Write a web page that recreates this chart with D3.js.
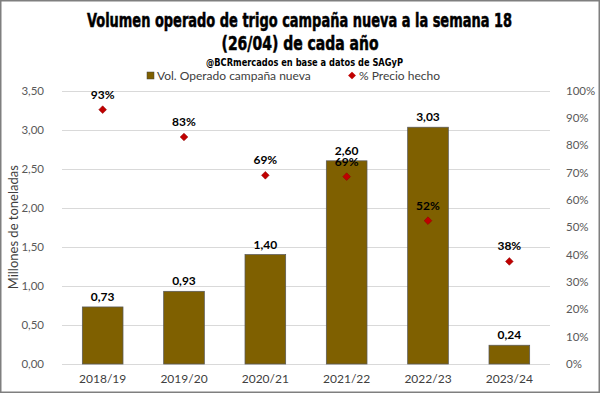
<!DOCTYPE html>
<html lang="es">
	<head>
		<meta charset="utf-8">
		<title>Volumen operado de trigo</title>
		<script type="text/javascript" src="https://d3js.org/d3.v7.min.js"></script>
		<style type="text/css">
			body { margin: 0; background: #fff; }
			text { font-family: Lato, "Open Sans", sans-serif; fill: #404040; }
			.title { font-family: "DejaVu Sans Condensed", "Liberation Sans", sans-serif; font-weight: bold; fill: #000; }
		</style>
	</head>
	<body>
		<script type="text/javascript">

			// data
			var campaigns = ["2018/19", "2019/20", "2020/21", "2021/22", "2022/23", "2023/24"];
			var volume = [0.73, 0.93, 1.40, 2.60, 3.03, 0.24];          // millones de toneladas
			var priced = [0.93, 0.83, 0.69, 0.685, 0.524, 0.375];        // % precio hecho
			var priceLabels = ["93%", "83%", "69%", "69%", "52%", "38%"];
			var leftTicks = [0, 0.5, 1, 1.5, 2, 2.5, 3, 3.5];
			var rightTicks = [0, 0.1, 0.2, 0.3, 0.4, 0.5, 0.6, 0.7, 0.8, 0.9, 1];

			var w = 600;
			var h = 393;
			var margin = {top: 90.5, right: 50, bottom: 29, left: 62};

			var svg = d3.select("body")
						.append("svg")
						.attr("width", w)
						.attr("height", h);

			// outer frame
			svg.append("rect")
				.attr("x", 0.75).attr("y", 0.75)
				.attr("width", w - 1.5).attr("height", h - 1.5)
				.style("fill", "#fff")
				.style("stroke", "#7f7f7f")
				.style("stroke-width", 1.5);

			var x = d3.scaleBand()
						.domain(campaigns)
						.range([margin.left, w - margin.right])
						.paddingInner(0.5)
						.paddingOuter(0.25);

			var y = d3.scaleLinear().domain([0, 3.5]).range([h - margin.bottom, margin.top]);
			var y2 = d3.scaleLinear().domain([0, 1]).range([h - margin.bottom, margin.top]);

			// gridlines
			svg.append("g")
				.selectAll("line")
				.data(leftTicks)
				.enter()
				.append("line")
				.attr("x1", margin.left)
				.attr("x2", w - margin.right)
				.attr("y1", function(d) { return Math.round(y(d)) + 0.5; })
				.attr("y2", function(d) { return Math.round(y(d)) + 0.5; })
				.style("stroke", "#d9d9d9")
				.style("stroke-width", 1);

			// left axis
			var fmt = function(d) { return d3.format(".2f")(d).replace(".", ","); };
			var leftAxis = svg.append("g")
				.attr("transform", "translate(" + (margin.left - 15) + ",0)")
				.call(d3.axisLeft(y).tickValues(leftTicks).tickFormat(fmt).tickSize(0));
			leftAxis.select(".domain").remove();
			leftAxis.selectAll("text").style("font-size", "11.5px").style("fill", "#595959");

			// right axis
			var rightAxis = svg.append("g")
				.attr("transform", "translate(" + (w - margin.right + 13) + ",0)")
				.call(d3.axisRight(y2).tickValues(rightTicks).tickFormat(d3.format(".0%")).tickSize(0));
			rightAxis.select(".domain").remove();
			rightAxis.selectAll("text").style("font-size", "11.5px").style("fill", "#595959");

			// bottom axis
			var bottomAxis = svg.append("g")
				.attr("transform", "translate(0," + (h - margin.bottom + 7) + ")")
				.call(d3.axisBottom(x).tickSize(0));
			bottomAxis.select(".domain").remove();
			bottomAxis.selectAll("text").style("font-size", "12px").style("fill", "#404040");

			// y axis title
			svg.append("text")
				.attr("transform", "translate(18," + (margin.top + (h - margin.bottom - margin.top) / 2) + ") rotate(-90)")
				.attr("text-anchor", "middle")
				.style("font-size", "13px")
				.style("fill", "#404040")
				.text("Millones de toneladas");

			// bars
			svg.selectAll("rect.bar")
				.data(volume)
				.enter()
				.append("rect")
				.attr("class", "bar")
				.attr("x", function(d, i) { return x(campaigns[i]); })
				.attr("y", function(d) { return y(d); })
				.attr("width", x.bandwidth())
				.attr("height", function(d) { return y(0) - y(d); })
				.style("fill", "#7f6000")
				.style("stroke", "#595959")
				.style("stroke-width", 0.75);

			// bar labels
			svg.selectAll("text.vlabel")
				.data(volume)
				.enter()
				.append("text")
				.attr("class", "vlabel")
				.attr("x", function(d, i) { return x(campaigns[i]) + x.bandwidth() / 2; })
				.attr("y", function(d) { return y(d) - 6; })
				.attr("text-anchor", "middle")
				.style("font-size", "12px")
				.style("font-weight", "bold")
				.style("fill", "#000")
				.text(function(d) { return fmt(d); });

			// diamonds
			var diamond = d3.symbol().type(d3.symbolDiamond2).size(38);
			svg.selectAll("path.pt")
				.data(priced)
				.enter()
				.append("path")
				.attr("class", "pt")
				.attr("d", diamond)
				.attr("transform", function(d, i) {
					return "translate(" + (x(campaigns[i]) + x.bandwidth() / 2) + "," + y2(d) + ")";
				})
				.style("fill", "#c00000")
				.style("stroke", "#8b0000")
				.style("stroke-width", 0.5);

			svg.selectAll("text.plabel")
				.data(priced)
				.enter()
				.append("text")
				.attr("class", "plabel")
				.attr("x", function(d, i) { return x(campaigns[i]) + x.bandwidth() / 2; })
				.attr("y", function(d) { return y2(d) - 11; })
				.attr("text-anchor", "middle")
				.style("font-size", "12px")
				.style("font-weight", "bold")
				.style("fill", "#000")
				.text(function(d, i) { return priceLabels[i]; });

			// titles (narrow face squeezed to the reference widths)
			svg.append("text")
				.attr("class", "title")
				.attr("x", 299.5).attr("y", 27)
				.attr("text-anchor", "middle")
				.attr("textLength", 425)
				.attr("lengthAdjust", "spacingAndGlyphs")
				.style("font-size", "19px")
				.style("stroke", "#000")
				.style("stroke-width", 0.5)
				.text("Volumen operado de trigo campaña nueva a la semana 18");
			svg.append("text")
				.attr("class", "title")
				.attr("x", 300).attr("y", 50)
				.attr("text-anchor", "middle")
				.attr("textLength", 157)
				.attr("lengthAdjust", "spacingAndGlyphs")
				.style("font-size", "19px")
				.style("stroke", "#000")
				.style("stroke-width", 0.5)
				.text("(26/04) de cada año");
			svg.append("text")
				.attr("class", "title")
				.attr("x", 304.5).attr("y", 66)
				.attr("text-anchor", "middle")
				.attr("textLength", 197)
				.attr("lengthAdjust", "spacingAndGlyphs")
				.style("font-size", "11px")
				.text("@BCRmercados  en base a datos de SAGyP");

			// legend
			var legend = svg.append("g").attr("transform", "translate(0,80)");
			legend.append("rect")
				.attr("x", 147).attr("y", -8)
				.attr("width", 7).attr("height", 7)
				.style("fill", "#7f6000")
				.style("stroke", "#404040")
				.style("stroke-width", 0.5);
			legend.append("text")
				.attr("x", 157).attr("y", 0)
				.style("font-size", "12px")
				.style("fill", "#404040")
				.text("Vol. Operado campaña nueva");
			legend.append("path")
				.attr("d", diamond)
				.attr("transform", "translate(352,-4.5)")
				.style("fill", "#c00000");
			legend.append("text")
				.attr("x", 359).attr("y", 0)
				.style("font-size", "12px")
				.style("fill", "#404040")
				.text("% Precio hecho");

		</script>
	</body>
</html>
